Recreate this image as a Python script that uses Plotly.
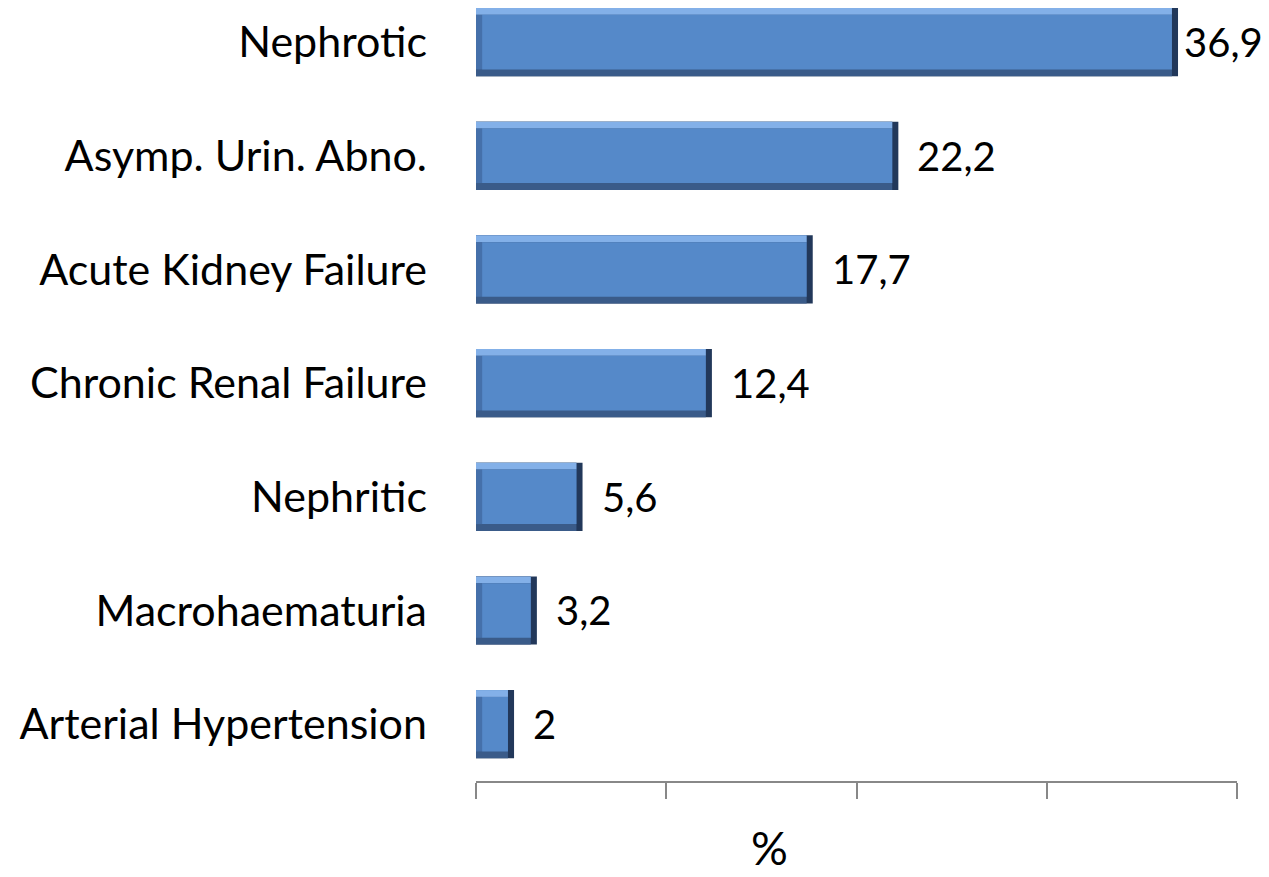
import plotly.graph_objects as go

categories = ["Arterial Hypertension", "Macrohaematuria", "Nephritic",
              "Chronic Renal Failure", "Acute Kidney Failure",
              "Asymp. Urin. Abno.", "Nephrotic"]
values = [2.0, 3.2, 5.6, 12.4, 17.7, 22.2, 36.9]
value_labels = ["2", "3,2", "5,6", "12,4", "17,7", "22,2", "36,9"]
x_ticks = [0, 10, 20, 30, 40]

pos = list(range(len(categories)))
W = 0.6          # bar thickness (category units)
ex = 0.32        # bevel size along value axis
ey = 0.06        # bevel size along category axis

fig = go.Figure()
# right-edge dark
fig.add_trace(go.Bar(y=pos, x=values, orientation="h", width=W,
                     marker=dict(color="#22385A", line=dict(width=0)), hoverinfo="skip"))
# bottom-edge dark
fig.add_trace(go.Bar(y=pos, x=[v - ex for v in values], orientation="h", width=W,
                     marker=dict(color="#3A5B89", line=dict(width=0)), hoverinfo="skip"))
# top light strip
fig.add_trace(go.Bar(y=pos, x=[v - ex for v in values], orientation="h",
                     width=ey, offset=W / 2 - ey,
                     marker=dict(color="#83B0E8", line=dict(width=0)), hoverinfo="skip"))
# left strip
fig.add_trace(go.Bar(y=pos, x=[ex] * len(values), orientation="h",
                     width=W - 2 * ey, offset=-W / 2 + ey,
                     marker=dict(color="#4570AA", line=dict(width=0)), hoverinfo="skip"))
# face
fig.add_trace(go.Bar(y=pos, x=[v - 2 * ex for v in values], base=[ex] * len(values),
                     orientation="h", width=W - 2 * ey, offset=-W / 2 + ey,
                     marker=dict(color="#5589C9", line=dict(width=0)), hoverinfo="skip"))

fig.update_layout(barmode="overlay")

vmax = max(values)
for p, v, t in zip(pos, values, value_labels):
    fig.add_annotation(x=v, y=p, text=t, showarrow=False, xanchor="left",
                       xshift=4 if v == vmax else 17,
                       font=dict(family="Lato", size=40, color="#000000"))

fig.add_annotation(x=(769 - 476) / (1237 - 476), y=-0.124, xref="paper", yref="paper",
                   text="%", showarrow=False, yanchor="bottom",
                   font=dict(family="Lato", size=46, color="#000000"))

fig.update_xaxes(range=[0, 40], tickvals=x_ticks, showticklabels=False,
                 showgrid=False, zeroline=False, showline=True, linecolor="#888888",
                 linewidth=2, ticks="outside", ticklen=16, tickwidth=2, tickcolor="#888888")
fig.update_yaxes(range=[-0.5, 6.3], tickvals=pos, ticktext=categories,
                 showgrid=False, zeroline=False, showline=False, ticks="",
                 ticklabelstandoff=48,
                 tickfont=dict(family="Lato", size=43, color="#000000"))

fig.update_layout(width=1261, height=869, showlegend=False,
                  margin=dict(l=468, r=32, t=0, b=96, pad=0),
                  plot_bgcolor="white", paper_bgcolor="white")

fig.write_html("out.html")
